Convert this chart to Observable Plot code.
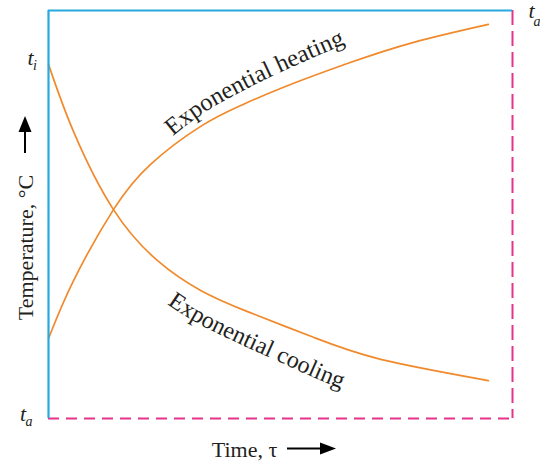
<!DOCTYPE html>
<html><head><meta charset="utf-8">
<script src="https://cdn.jsdelivr.net/npm/d3@7"></script>
<script src="https://cdn.jsdelivr.net/npm/@observablehq/plot@0.6"></script>
<style>body{margin:0;background:#fff} svg{display:block}</style>
</head><body><div id="chart"></div>
<script>
// Data (time and temperature, in % of the plotted range; ta = 0)
const coolingTime = [0, 5.4, 14.0, 23.5, 32.8, 42.9, 57.1, 71.6, 94.8];
const coolingTemp = [86.8, 70.3, 51.2, 38.7, 31.4, 26.2, 19.9, 14.5, 9.3];
const heatingTime = [0, 5.4, 14.0, 22.0, 32.8, 41.4, 50.0, 64.4, 78.7, 94.8];
const heatingTemp = [19.6, 33.8, 51.2, 62.3, 71.6, 76.7, 80.9, 87.0, 92.2, 96.6];
const initialTemp = [86.8];   // t_i
const ambientTemp = [0];      // t_a
const curveLabels = ["Exponential heating", "Exponential cooling"];
const yTitle = "Temperature, °C";
const xTitle = "Time, τ";

const ORANGE = "#f08a2c", BLUE = "#27a8de", MAGENTA = "#e5338b", INK = "#231f20";
const FONT = "Liberation Serif, Times New Roman, serif";

const cooling = coolingTime.map((t, i) => ({time: t, temp: coolingTemp[i]}));
const heating = heatingTime.map((t, i) => ({time: t, temp: heatingTemp[i]}));

const tickStyle = {fontFamily: FONT, fontStyle: "italic", fill: INK, lineAnchor: "bottom", textAnchor: "middle"};

const chart = Plot.plot({
  width: 540, height: 465,
  marginLeft: 48, marginRight: 28, marginTop: 10, marginBottom: 47,
  x: {domain: [0, 100], axis: null},
  y: {domain: [0, 100], axis: null},
  style: {fontFamily: FONT, background: "#fff", overflow: "visible"},
  marks: [
    Plot.line(heating, {x: "time", y: "temp", stroke: ORANGE, strokeWidth: 1.7, curve: "natural"}),
    Plot.line(cooling, {x: "time", y: "temp", stroke: ORANGE, strokeWidth: 1.7, curve: "natural"}),
    Plot.ruleX([100], {stroke: MAGENTA, strokeWidth: 2, strokeDasharray: "15,6"}),
    Plot.ruleY([0], {stroke: MAGENTA, strokeWidth: 2, strokeDasharray: "11,7"}),
    Plot.ruleY([100], {stroke: BLUE, strokeWidth: 2.2}),
    Plot.ruleX([0], {stroke: BLUE, strokeWidth: 2.2}),
    // t_i
    Plot.text(initialTemp, {y: d => d, text: () => "t", frameAnchor: "left", dx: -18, dy: 1, fontSize: 22, ...tickStyle}),
    Plot.text(initialTemp, {y: d => d, text: () => "i", frameAnchor: "left", dx: -13.5, dy: 6, fontSize: 14, ...tickStyle}),
    // t_a bottom
    Plot.text(ambientTemp, {y: d => d, text: () => "t", frameAnchor: "left", dx: -25.5, dy: 2, fontSize: 22, ...tickStyle}),
    Plot.text(ambientTemp, {y: d => d, text: () => "a", frameAnchor: "left", dx: -19.5, dy: 7, fontSize: 14, ...tickStyle}),
    // t_a top right
    Plot.text(ambientTemp, {text: () => "t", frameAnchor: "top-right", dx: 19, dy: 7, fontSize: 22, ...tickStyle}),
    Plot.text(ambientTemp, {text: () => "a", frameAnchor: "top-right", dx: 24.5, dy: 15, fontSize: 14, ...tickStyle}),
    // axis titles
    Plot.text([yTitle], {text: d => d, frameAnchor: "left", rotate: -90, dx: -16, dy: 33, fontSize: 22, fill: INK, lineAnchor: "bottom", textAnchor: "middle"}),
    Plot.text([xTitle], {text: d => d, frameAnchor: "bottom", dx: -36, dy: 38, fontSize: 22, fill: INK, lineAnchor: "bottom", textAnchor: "middle"})
  ]
});
document.getElementById("chart").appendChild(chart);

// curved labels: guide paths offset from the plotted curves
const svg = d3.select(chart);
const paths = chart.querySelectorAll('g[aria-label="line"] path');
function lengthAtX(path, x) {
  let lo = 0, hi = path.getTotalLength();
  for (let i = 0; i < 40; i++) {
    const mid = (lo + hi) / 2;
    if (path.getPointAtLength(mid).x < x) lo = mid; else hi = mid;
  }
  return lo;
}
function offsetGuide(path, startX, d0, d1, span) {
  const L = path.getTotalLength(), s0 = lengthAtX(path, startX);
  const pts = [];
  for (let s = s0; s <= L; s += 2) {
    const a = path.getPointAtLength(Math.max(0, s - 1)), b = path.getPointAtLength(Math.min(L, s + 1));
    const len = Math.hypot(b.x - a.x, b.y - a.y) || 1;
    const tx = (b.x - a.x) / len, ty = (b.y - a.y) / len;
    const f = Math.min(1, (s - s0) / span);
    const d = d0 + (d1 - d0) * f;
    const p = path.getPointAtLength(s);
    pts.push([p.x + ty * d, p.y - tx * d]);
  }
  return d3.line()(pts);
}
const labelSpecs = [
  {path: paths[0], id: "heatGuide", text: curveLabels[0], startX: 177, d0: 7, d1: 19, size: 24.5},
  {path: paths[1], id: "coolGuide", text: curveLabels[1], startX: 183, d0: -29, d1: -40, size: 24}
];
const defs = svg.append("defs");
for (const s of labelSpecs) {
  defs.append("path").attr("id", s.id).attr("d", offsetGuide(s.path, s.startX, s.d0, s.d1, 200)).attr("fill", "none");
  const t = svg.append("text")
    .attr("font-family", FONT).attr("font-size", s.size).attr("fill", INK)
    .attr("text-anchor", "start");
  t.append("textPath").attr("href", "#" + s.id)
    .attr("text-anchor", "start").attr("startOffset", 0).text(s.text);
}

// arrows next to axis titles
const ar = svg.append("g").attr("fill", "#000").attr("stroke", "#000");
ar.append("line").attr("x1", 25).attr("x2", 25).attr("y1", 153).attr("y2", 128).attr("stroke-width", 2);
ar.append("path").attr("d", "M25,116L31.5,132L18.5,132Z").attr("stroke", "none");
ar.append("line").attr("x1", 287).attr("x2", 324).attr("y1", 448.5).attr("y2", 448.5).attr("stroke-width", 2);
ar.append("path").attr("d", "M336,448.5L320,442.5L320,454.5Z").attr("stroke", "none");
</script>
</body></html>
